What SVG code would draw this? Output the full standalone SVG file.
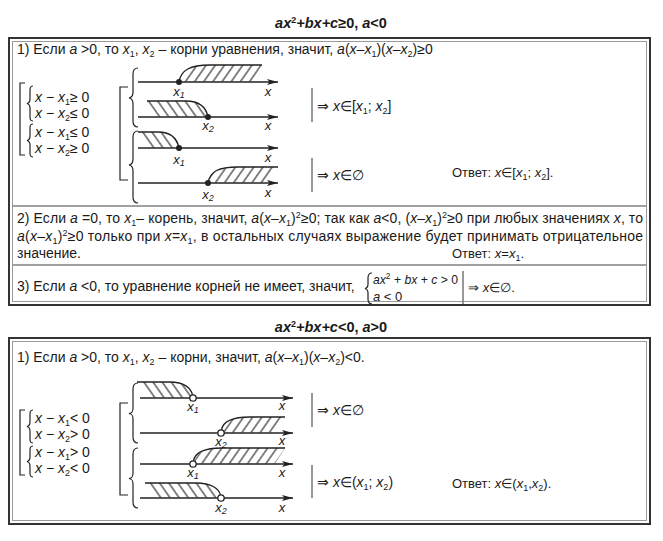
<svg xmlns="http://www.w3.org/2000/svg" width="663" height="541" viewBox="0 0 663 541">
<style>
text{font-family:"Liberation Sans",Arial,sans-serif;fill:#1a1a1a;font-size:14px}
.i{font-style:italic}
.s{font-size:9px}
.m{font-size:14px}
.t13{font-size:13px}
.ttl{font-size:14.5px;font-weight:bold}
.lb{font-size:13px;font-style:italic;text-anchor:middle}
.ax{stroke:#222;stroke-width:1.3;fill:none}
.cv{stroke:#222;stroke-width:1.3;fill:none}
.br{stroke:#222;stroke-width:1.2;fill:none}
.bar{stroke:#777;stroke-width:1.5}
.o1{fill:none;stroke:#333;stroke-width:2}
.o2{fill:none;stroke:#9a9a9a;stroke-width:1}
.dv{stroke:#a0a0a0;stroke-width:2}
</style>
<defs>
<marker id="ar" viewBox="0 0 11 6" refX="11" refY="3" markerWidth="11" markerHeight="6" markerUnits="userSpaceOnUse" orient="auto"><path d="M0,0 L11,3 L0,6 L2.5,3 Z" fill="#222"/></marker>
<pattern id="hR" width="7.5" height="7.5" patternUnits="userSpaceOnUse" patternTransform="rotate(35)"><line x1="3.75" y1="0" x2="3.75" y2="7.5" stroke="#333" stroke-width="1.2"/></pattern>
<pattern id="hL" width="7.5" height="7.5" patternUnits="userSpaceOnUse" patternTransform="rotate(-35)"><line x1="3.75" y1="0" x2="3.75" y2="7.5" stroke="#333" stroke-width="1.2"/></pattern>
</defs>
<rect width="663" height="541" fill="#fff"/>

<!-- Title 1 -->
<text class="ttl" x="331" y="28" text-anchor="middle"><tspan class="i">ax</tspan><tspan class="s" dy="-5">2</tspan><tspan class="i" dy="5">+bx+c</tspan>≥0, <tspan class="i">a</tspan>&lt;0</text>

<!-- Top box -->
<g id="box-top">
<rect class="o1" x="9" y="38" width="641" height="267"/>
<rect class="o2" x="12.5" y="41.5" width="634" height="260"/>
<line class="dv" x1="13" y1="206" x2="646" y2="206"/>
<line class="dv" x1="13" y1="265" x2="646" y2="265"/>
</g>

<g id="sec1-header">
<text x="17" y="54">1) Если <tspan class="i">a</tspan> &gt;0, то <tspan class="i">x</tspan><tspan class="s" dy="3">1</tspan><tspan dy="-3">, </tspan><tspan class="i">x</tspan><tspan class="s" dy="3">2</tspan><tspan dy="-3"> – корни уравнения, значит, </tspan><tspan class="i">a</tspan>(<tspan class="i">x</tspan>–<tspan class="i">x</tspan><tspan class="s" dy="3">1</tspan><tspan dy="-3">)(</tspan><tspan class="i">x</tspan>–<tspan class="i">x</tspan><tspan class="s" dy="3">2</tspan><tspan dy="-3">)≥0</tspan></text>
</g>

<g id="sys-top">
<path class="br" d="M25,83 H20 V155 H25"/>
<path class="br" d="M33,86 C30,86 30,88 30,91 L30,99 C30,102 29,103 27,103.5 C29,104 30,105 30,108 L30,116 C30,119 30,121 33,121"/>
<path class="br" d="M33,124 C30,124 30,126 30,129 L30,136 C30,139 29,140 27,140.5 C29,141 30,142 30,145 L30,152 C30,155 30,157 33,157"/>
<text class="m" x="35" y="102"><tspan class="i">x</tspan> − <tspan class="i">x</tspan><tspan class="s" dy="3">1</tspan><tspan dy="-3">≥ 0</tspan></text>
<text class="m" x="35" y="118"><tspan class="i">x</tspan> − <tspan class="i">x</tspan><tspan class="s" dy="3">2</tspan><tspan dy="-3">≤ 0</tspan></text>
<text class="m" x="35" y="137"><tspan class="i">x</tspan> − <tspan class="i">x</tspan><tspan class="s" dy="3">1</tspan><tspan dy="-3">≤ 0</tspan></text>
<text class="m" x="35" y="153"><tspan class="i">x</tspan> − <tspan class="i">x</tspan><tspan class="s" dy="3">2</tspan><tspan dy="-3">≥ 0</tspan></text>
</g>

<g id="lines-top">
<path class="br" d="M128,87 H120 V180 H128"/>
<path class="br" d="M138,68 C134,68 133,70 133,74 L133,92 C133,96 132,97.5 129,98 C132,98.5 133,100 133,104 L133,121 C133,125 134,127 138,127"/>
<path class="br" d="M138,131 C134,131 133,133 133,137 L133,159 C133,163 132,164.5 129,165 C132,165.5 133,167 133,171 L133,197 C133,201 134,203 138,203"/>

<g id="tl1">
<path d="M179,81.5 C181,70 190,65 210,65 L262,65 L252,81.5 Z" fill="url(#hR)"/>
<path class="cv" d="M179,82 C181,70 190,65 210,65 L262,65"/>
<line class="ax" x1="138" y1="82" x2="278" y2="82" marker-end="url(#ar)"/>
<circle cx="179" cy="82" r="3" fill="#222"/>
<text class="lb" x="179" y="96">x<tspan class="s" dy="2">1</tspan></text>
<text class="lb" x="268" y="96">x</text>
</g>
<g id="tl2">
<path d="M147,101 L186,101 C200,101 206,107 208,116.5 L158,116.5 Z" fill="url(#hL)"/>
<path class="cv" d="M147,101 L186,101 C200,101 206,107 208,117"/>
<line class="ax" x1="138" y1="117" x2="278" y2="117" marker-end="url(#ar)"/>
<circle cx="208" cy="117" r="3" fill="#222"/>
<text class="lb" x="208" y="130">x<tspan class="s" dy="2">2</tspan></text>
<text class="lb" x="268" y="130">x</text>
</g>
<g id="tl3">
<path d="M138,132 L158,132 C171,132 177,138 179,147.5 L150,147.5 Z" fill="url(#hL)"/>
<path class="cv" d="M138,132 L158,132 C171,132 177,138 179,148"/>
<line class="ax" x1="138" y1="148" x2="278" y2="148" marker-end="url(#ar)"/>
<circle cx="179" cy="148" r="3" fill="#222"/>
<text class="lb" x="179" y="164">x<tspan class="s" dy="2">1</tspan></text>
<text class="lb" x="268" y="162">x</text>
</g>
<g id="tl4">
<path d="M208,182.5 C210,171 219,167 238,167 L278,167 L269,182.5 Z" fill="url(#hR)"/>
<path class="cv" d="M208,183 C210,171 219,167 238,167 L278,167"/>
<line class="ax" x1="138" y1="183" x2="278" y2="183" marker-end="url(#ar)"/>
<circle cx="208" cy="183" r="3" fill="#222"/>
<text class="lb" x="208" y="199">x<tspan class="s" dy="2">2</tspan></text>
<text class="lb" x="268" y="197">x</text>
</g>
</g>

<g id="res-top">
<line class="bar" x1="312" y1="88" x2="312" y2="122"/>
<text class="m" x="317" y="111">⇒ <tspan class="i">x</tspan>∈[<tspan class="i">x</tspan><tspan class="s" dy="3">1</tspan><tspan dy="-3">; </tspan><tspan class="i">x</tspan><tspan class="s" dy="3">2</tspan><tspan dy="-3">]</tspan></text>
<line class="bar" x1="312" y1="158" x2="312" y2="192"/>
<text class="m" x="317" y="180">⇒ <tspan class="i">x</tspan>∈∅</text>
<text class="t13" x="452" y="177">Ответ: <tspan class="i">x</tspan>∈[<tspan class="i">x</tspan><tspan class="s" dy="3">1</tspan><tspan dy="-3">; </tspan><tspan class="i">x</tspan><tspan class="s" dy="3">2</tspan><tspan dy="-3">].</tspan></text>
</g>

<g id="sec2">
<text x="17" y="223" textLength="626" lengthAdjust="spacing">2) Если <tspan class="i">a</tspan> =0, то <tspan class="i">x</tspan><tspan class="s" dy="3">1</tspan><tspan dy="-3">– корень, значит,  </tspan><tspan class="i">a</tspan>(<tspan class="i">x</tspan>–<tspan class="i">x</tspan><tspan class="s" dy="3">1</tspan><tspan dy="-3">)</tspan><tspan class="s" dy="-5">2</tspan><tspan dy="5">≥0; так как </tspan><tspan class="i">a</tspan>&lt;0, (<tspan class="i">x</tspan>–<tspan class="i">x</tspan><tspan class="s" dy="3">1</tspan><tspan dy="-3">)</tspan><tspan class="s" dy="-5">2</tspan><tspan dy="5">≥0 при любых значениях </tspan><tspan class="i">x</tspan>, то</text>
<text x="17" y="241" textLength="626" lengthAdjust="spacing"><tspan class="i">a</tspan>(<tspan class="i">x</tspan>–<tspan class="i">x</tspan><tspan class="s" dy="3">1</tspan><tspan dy="-3">)</tspan><tspan class="s" dy="-5">2</tspan><tspan dy="5">≥0 только при </tspan><tspan class="i">x</tspan>=<tspan class="i">x</tspan><tspan class="s" dy="3">1</tspan><tspan dy="-3">, в остальных случаях выражение будет принимать отрицательное</tspan></text>
<text x="17" y="258">значение.</text>
<text class="t13" x="452" y="258">Ответ: <tspan class="i">x</tspan>=<tspan class="i">x</tspan><tspan class="s" dy="3">1</tspan><tspan dy="-3">.</tspan></text>
</g>

<g id="sec3">
<text x="17" y="291">3) Если <tspan class="i">a</tspan> &lt;0, то уравнение корней не имеет, значит,</text>
<path class="br" d="M372,273 C369,273 368,275 368,278 L368,284 C368,287 367,288 365,288.5 C367,289 368,290 368,293 L368,299 C368,302 369,304 372,304"/>
<text class="t13" x="373" y="284" textLength="85" lengthAdjust="spacingAndGlyphs"><tspan class="i">ax</tspan><tspan class="s" dy="-5">2</tspan><tspan dy="5"> + </tspan><tspan class="i">bx</tspan> + <tspan class="i">c</tspan> &gt; 0</text>
<text class="t13" x="373" y="301"><tspan class="i">a</tspan> &lt; 0</text>
<line class="bar" x1="463" y1="271" x2="463" y2="304"/>
<text class="t13" x="468" y="292">⇒ <tspan class="i">x</tspan>∈∅.</text>
</g>

<!-- Title 2 -->
<text class="ttl" x="331" y="332" text-anchor="middle"><tspan class="i">ax</tspan><tspan class="s" dy="-5">2</tspan><tspan class="i" dy="5">+bx+c</tspan>&lt;0,  <tspan class="i">a</tspan>&gt;0</text>

<g id="box-bottom">
<rect class="o1" x="9" y="338" width="641" height="186"/>
<rect class="o2" x="12.5" y="341.5" width="634" height="179"/>
</g>

<g id="sec4-header">
<text x="17" y="362">1) Если <tspan class="i">a</tspan> &gt;0, то <tspan class="i">x</tspan><tspan class="s" dy="3">1</tspan><tspan dy="-3">, </tspan><tspan class="i">x</tspan><tspan class="s" dy="3">2</tspan><tspan dy="-3"> – корни, значит, </tspan><tspan class="i">a</tspan>(<tspan class="i">x</tspan>–<tspan class="i">x</tspan><tspan class="s" dy="3">1</tspan><tspan dy="-3">)(</tspan><tspan class="i">x</tspan>–<tspan class="i">x</tspan><tspan class="s" dy="3">2</tspan><tspan dy="-3">)&lt;0.</tspan></text>
</g>

<g id="sys-bottom">
<path class="br" d="M25,410 H20 V475 H25"/>
<path class="br" d="M33,410 C30,410 30,412 30,415 L30,422 C30,425 29,426 27,426.5 C29,427 30,428 30,431 L30,438 C30,441 30,443 33,443"/>
<path class="br" d="M33,446 C30,446 30,448 30,451 L30,457 C30,460 29,461 27,461.5 C29,462 30,463 30,466 L30,472 C30,475 30,477 33,477"/>
<text class="m" x="35" y="423"><tspan class="i">x</tspan> − <tspan class="i">x</tspan><tspan class="s" dy="3">1</tspan><tspan dy="-3">&lt; 0</tspan></text>
<text class="m" x="35" y="439"><tspan class="i">x</tspan> − <tspan class="i">x</tspan><tspan class="s" dy="3">2</tspan><tspan dy="-3">&gt; 0</tspan></text>
<text class="m" x="35" y="457"><tspan class="i">x</tspan> − <tspan class="i">x</tspan><tspan class="s" dy="3">1</tspan><tspan dy="-3">&gt; 0</tspan></text>
<text class="m" x="35" y="473"><tspan class="i">x</tspan> − <tspan class="i">x</tspan><tspan class="s" dy="3">2</tspan><tspan dy="-3">&lt; 0</tspan></text>
</g>

<g id="lines-bottom">
<path class="br" d="M128,403 H120 V495 H128"/>
<path class="br" d="M138,383 C134,383 133,385 133,389 L133,408 C133,412 132,413 129,413.5 C132,414 133,415 133,419 L133,437 C133,441 134,443 138,443"/>
<path class="br" d="M138,448 C134,448 133,450 133,454 L133,473 C133,477 132,478 129,478.5 C132,479 133,480 133,484 L133,502 C133,506 134,508 138,508"/>

<g id="bl1">
<path d="M137,382 L170,382 C184,382 191,388 192,397.5 L150,397.5 Z" fill="url(#hL)"/>
<path class="cv" d="M137,382 L170,382 C184,382 191,388 192.5,395"/>
<line class="ax" x1="140" y1="398" x2="293" y2="398" marker-end="url(#ar)"/>
<circle cx="193" cy="398" r="3.2" fill="#fff" stroke="#222" stroke-width="1.3"/>
<text class="lb" x="193" y="411">x<tspan class="s" dy="2">1</tspan></text>
<text class="lb" x="282" y="410">x</text>
</g>
<g id="bl2">
<path d="M222,432.5 C224,421 232,417 250,417 L285,417 L275,432.5 Z" fill="url(#hR)"/>
<path class="cv" d="M221.5,430 C223,421 232,417 250,417 L285,417"/>
<line class="ax" x1="140" y1="433" x2="293" y2="433" marker-end="url(#ar)"/>
<circle cx="221" cy="433" r="3.2" fill="#fff" stroke="#222" stroke-width="1.3"/>
<text class="lb" x="221" y="446">x<tspan class="s" dy="2">2</tspan></text>
<text class="lb" x="282" y="445">x</text>
</g>
<g id="bl3">
<path d="M194,463.5 C196,452 204,448 222,448 L285,448 L275,463.5 Z" fill="url(#hR)"/>
<path class="cv" d="M193.5,461 C195,452 204,448 222,448 L285,448"/>
<line class="ax" x1="140" y1="464" x2="293" y2="464" marker-end="url(#ar)"/>
<circle cx="193" cy="464" r="3.2" fill="#fff" stroke="#222" stroke-width="1.3"/>
<text class="lb" x="193" y="477">x<tspan class="s" dy="2">1</tspan></text>
<text class="lb" x="282" y="477">x</text>
</g>
<g id="bl4">
<path d="M145,483 L196,483 C212,483 219,489 220,497.5 L158,497.5 Z" fill="url(#hL)"/>
<path class="cv" d="M145,483 L196,483 C212,483 219,489 220.5,495"/>
<line class="ax" x1="140" y1="498" x2="293" y2="498" marker-end="url(#ar)"/>
<circle cx="221" cy="498" r="3.2" fill="#fff" stroke="#222" stroke-width="1.3"/>
<text class="lb" x="221" y="512">x<tspan class="s" dy="2">2</tspan></text>
<text class="lb" x="282" y="512">x</text>
</g>
</g>

<g id="res-bottom">
<line class="bar" x1="312" y1="393" x2="312" y2="427"/>
<text class="m" x="317" y="415">⇒ <tspan class="i">x</tspan>∈∅</text>
<line class="bar" x1="312" y1="465" x2="312" y2="498"/>
<text class="m" x="317" y="487">⇒ <tspan class="i">x</tspan>∈(<tspan class="i">x</tspan><tspan class="s" dy="3">1</tspan><tspan dy="-3">; </tspan><tspan class="i">x</tspan><tspan class="s" dy="3">2</tspan><tspan dy="-3">)</tspan></text>
<text class="t13" x="452" y="488">Ответ: <tspan class="i">x</tspan>∈(<tspan class="i">x</tspan><tspan class="s" dy="3">1</tspan><tspan dy="-3">,</tspan><tspan class="i">x</tspan><tspan class="s" dy="3">2</tspan><tspan dy="-3">).</tspan></text>
</g>
</svg>
